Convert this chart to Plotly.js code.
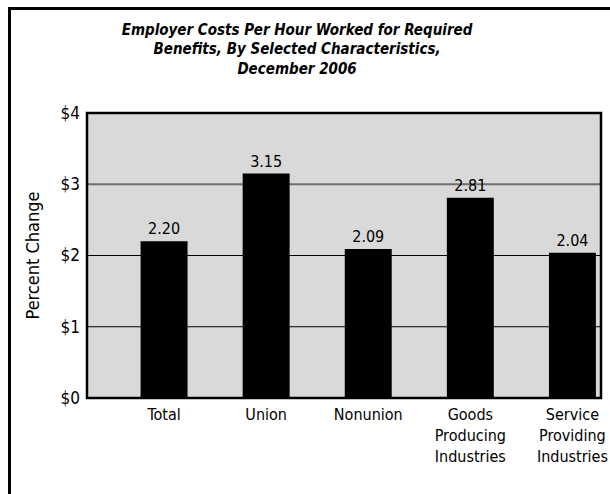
<!DOCTYPE html>
<html>
<head>
<meta charset="utf-8">
<script src="https://cdn.plot.ly/plotly-3.0.1.min.js"></script>
<style>
  html, body { margin: 0; padding: 0; background: #fff; }
  #chart { width: 610px; height: 494px; position: relative; }
  #frame { position: absolute; left: 8px; top: 7px; width: 700px; height: 600px;
           border-left: 3px solid #000; border-top: 3px solid #000; pointer-events: none; }
</style>
</head>
<body>
<div id="chart"></div>
<div id="frame"></div>
<script>
const categories = ["Total", "Union", "Nonunion", "Goods<br>Producing<br>Industries", "Service<br>Providing<br>Industries"];
const values = [2.20, 3.15, 2.09, 2.81, 2.04];
const valueLabels = ["2.20", "3.15", "2.09", "2.81", "2.04"];
const yTickVals = [0, 1, 2, 3, 4];
const yTickText = ["$0", "$1", "$2", "$3", "$4"];
const gridVals = [1, 2, 3];
const gridColors = ["#000", "#000", "#6e6e6e"];
const gridWidths = [1, 1, 2];

const FONT = '"Liberation Sans Narrow", "Arial Narrow", "DejaVu Sans Condensed", "Liberation Sans", sans-serif';

const trace = {
  type: 'bar',
  x: categories,
  y: values,
  text: valueLabels,
  textposition: 'outside',
  cliponaxis: false,
  textfont: { family: FONT, size: 16, color: '#000' },
  marker: { color: '#000', line: { color: '#000', width: 0 } },
  width: 0.46,
  hoverinfo: 'skip'
};

const gridShapes = gridVals.map((v, i) => ({
  type: 'line', xref: 'paper', yref: 'y', x0: 0, x1: 1, y0: v, y1: v,
  line: { color: gridColors[i], width: gridWidths[i] }, layer: 'below'
}));

const layout = {
  width: 610,
  height: 494,
  margin: { l: 87, r: 9, t: 113, b: 96 },
  paper_bgcolor: '#fff',
  plot_bgcolor: '#d9d9d9',
  showlegend: false,
  title: {
    text: '<b><i>Employer Costs Per Hour Worked for Required<br>Benefits, By Selected Characteristics,<br>December 2006</i></b>',
    font: { family: FONT, size: 15, color: '#000' },
    x: 0.487, xanchor: 'center',
    y: 0.93, yanchor: 'top', yref: 'container'
  },
  xaxis: {
    type: 'category',
    range: [-0.755, 4.28],
    showgrid: false,
    zeroline: false,
    showline: false,
    ticks: '',
    ticklabelstandoff: 5,
    tickfont: { family: FONT, size: 16, color: '#000' },
    fixedrange: true
  },
  yaxis: {
    range: [0, 4],
    tickvals: yTickVals,
    ticktext: yTickText,
    showgrid: false,
    zeroline: false,
    showline: false,
    ticks: '',
    ticklabelstandoff: 6,
    tickfont: { family: FONT, size: 17, color: '#000' },
    title: { text: 'Percent Change', font: { family: FONT, size: 18, color: '#000' }, standoff: 16 },
    fixedrange: true
  },
  shapes: gridShapes.concat([
    { type: 'rect', xref: 'paper', yref: 'paper', x0: 0, x1: 1, y0: 0, y1: 1,
      line: { color: '#000', width: 2.5 }, fillcolor: 'rgba(0,0,0,0)', layer: 'above' }
  ]),
  bargap: 0.5
};

Plotly.newPlot('chart', [trace], layout, { displayModeBar: false, staticPlot: true });
</script>
</body>
</html>
